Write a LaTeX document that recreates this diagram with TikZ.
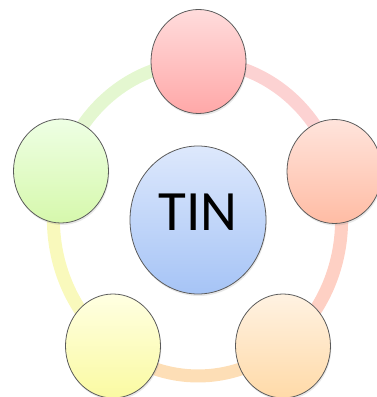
\documentclass[tikz,border=0pt]{standalone}
\usepackage{fontspec}
\newfontfamily\tinfont{Carlito}
\usepackage{tikz}
\usetikzlibrary{shapes.geometric, shadows}
\usepackage{xcolor}

\definecolor{pinkTop}{HTML}{FFDCDC}   \definecolor{pinkBot}{HTML}{FFA8A8}
\definecolor{salmTop}{HTML}{FFE4DC}   \definecolor{salmBot}{HTML}{FFBCA4}
\definecolor{peachTop}{HTML}{FFF2E2}  \definecolor{peachBot}{HTML}{FFDAA8}
\definecolor{yelTop}{HTML}{FFFFE2}    \definecolor{yelBot}{HTML}{FAFAA2}
\definecolor{grnTop}{HTML}{EEFFE4}    \definecolor{grnBot}{HTML}{D6F8AC}
\definecolor{tinTop}{HTML}{DDE8FC}    \definecolor{tinBot}{HTML}{A6C4F6}
\definecolor{edgeGray}{HTML}{5A5A5A}
\definecolor{ringPink}{HTML}{FCD2D2}
\definecolor{ringSalm}{HTML}{FED0C4}
\definecolor{ringPeach}{HTML}{FDDEB6}
\definecolor{ringYel}{HTML}{F9F9BC}
\definecolor{ringGrn}{HTML}{E4F7D0}

\pgfdeclarelayer{back}
\pgfsetlayers{back,main}

\begin{document}
\begin{tikzpicture}[x=1pt, y=1pt,
    bubble/.style={ellipse, draw=edgeGray, line width=0.8pt, inner sep=0pt,
      minimum width=95pt, minimum height=104pt,
      drop shadow={opacity=0.18, shadow xshift=0.8pt, shadow yshift=-2pt}},
    hub/.style={bubble, minimum width=136pt, minimum height=148pt,
      top color=tinTop, bottom color=tinBot,
      font=\tinfont\fontsize{57}{60}\selectfont, text depth=16pt},
    ring/.style={line width=13pt, line cap=butt}]
  \useasboundingbox (0,0) rectangle (376,397);
  %--- Hub
  \node[hub] (tin) at (198,177) {TIN};
  %--- Outer bubbles (pentagon on an ellipse 144.6 x 157)
  \node[bubble, top color=pinkTop,  bottom color=pinkBot]  (top)    at (198.5,335.5) {};
  \node[bubble, top color=salmTop,  bottom color=salmBot]  (right)  at (334.5,225.5) {};
  \node[bubble, top color=peachTop, bottom color=peachBot] (bright) at (283,51) {};
  \node[bubble, top color=yelTop,   bottom color=yelBot]   (bleft)  at (113,51) {};
  \node[bubble, top color=grnTop,   bottom color=grnBot]   (left)   at (61,226) {};
  %--- Ring segments (behind the bubbles)
  \begin{pgfonlayer}{back}
    \draw[ring, ringPink]
      (top.center) arc[start angle=90, end angle=18, x radius=144.6, y radius=157];
    \draw[ring, ringSalm]
      (right.center) arc[start angle=18, end angle=-54, x radius=144.6, y radius=157];
    \draw[ring, ringPeach]
      (bright.center) arc[start angle=-54, end angle=-126, x radius=144.6, y radius=157];
    \draw[ring, ringYel]
      (bleft.center) arc[start angle=-126, end angle=-198, x radius=144.6, y radius=157];
    \draw[ring, ringGrn]
      (left.center) arc[start angle=162, end angle=90, x radius=144.6, y radius=157];
  \end{pgfonlayer}
\end{tikzpicture}
\end{document}
